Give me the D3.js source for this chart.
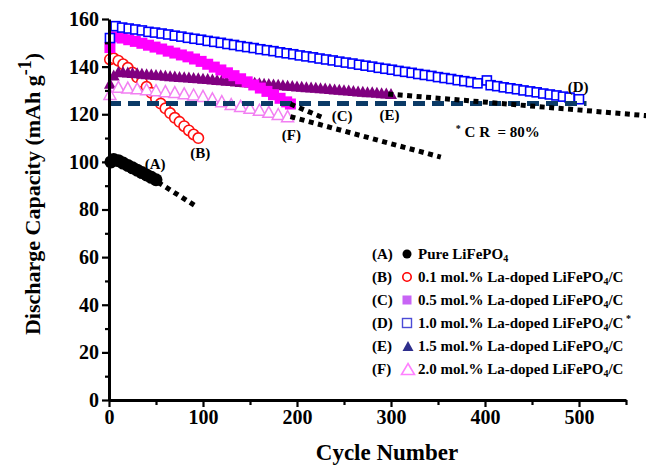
<!DOCTYPE html>
<html>
<head>
<meta charset="utf-8">
<script src="https://cdn.jsdelivr.net/npm/d3@7"></script>
<style>
body { margin: 0; background: #fff; }
text { font-family: "Liberation Serif", "Times New Roman", serif; font-weight: bold; fill: #000; }
</style>
</head>
<body>
<div id="chart"></div>
<script>
// cycle / capacity pairs
var seriesA = [[2,100],[5,101],[10,100.5],[15,99.5],[20,98.5],[25,97.5],[30,96.5],[35,95.5],[40,94.5],[45,93.5],[50,92.5]];

var seriesB = [[1,143],[5,143.5],[10,142.5],[15,141],[20,139.5],[25,137.5],[30,135.5],[35,133.5],[40,131.5],[45,129],
  [50,126.5],[55,124.5],[60,122.5],[65,120.5],[70,118.5],[75,116.8],[80,115],[85,113.2],[90,111.5],[95,110]];

var seriesC = [[1,148],[7,152.5],[14,152],[21,151.3],[28,150.6],[35,149.8],[42,149],[49,148.2],[56,147.4],[63,146.5],
  [70,145.7],[77,144.9],[84,144.1],[91,143.2],[98,142.2],[105,141],[112,139.8],[119,138.6],[126,137.4],[133,136.2],
  [140,134.9],[147,133.6],[154,132.3],[161,131],[168,129.6],[175,128.2],[182,126.7],[189,125.2],[193,124.3]];

var seriesD = [[1,152],[7,157],[14,156.4],[21,156],[28,155.6],[35,155.2],[42,154.6],[49,154.3],[56,153.9],[63,153.5],
  [70,153],[77,152.6],[84,152.1],[91,151.7],[98,151.3],[105,150.8],[112,150.4],[119,150],[126,149.5],[133,149.1],
  [140,148.6],[147,148.2],[154,147.8],[161,147.3],[168,146.9],[175,146.5],[182,146],[189,145.6],[196,145.2],[203,144.7],
  [210,144.3],[217,143.9],[224,143.4],[231,143],[238,142.6],[245,142.1],[252,141.7],[259,141.3],[266,140.8],[273,140.4],
  [280,140],[287,139.5],[294,139.1],[301,138.7],[308,138.2],[315,137.8],[322,137.4],[329,136.9],[336,136.5],[343,136.1],
  [350,135.6],[357,135.2],[364,134.8],[371,134.3],[378,133.9],[385,133.5],[392,133],[402,134.2],[406,132.2],[413,131.8],
  [420,131.3],[427,130.9],[434,130.5],[441,130],[448,129.6],[455,129.2],[462,128.7],[469,128.3],[476,127.9],[483,127.4],
  [490,127],[500,126.3]];

var seriesE = [[1,133],[5,136.5],[10,138],[15,137.8],[20,137.7],[25,137.5],[30,137.4],[35,137.2],[40,137],[45,136.9],
  [50,136.7],[55,136.6],[60,136.4],[65,136.2],[70,136.1],[75,135.9],[80,135.8],[85,135.6],[90,135.4],[95,135.3],
  [100,135.1],[105,135],[110,134.8],[115,134.6],[120,134.5],[125,134.3],[130,134.2],[135,134],[140,133.8],[145,133.7],
  [150,133.5],[155,133.4],[160,133.2],[165,133],[170,132.9],[175,132.7],[180,132.6],[185,132.4],[190,132.2],[195,132.1],
  [200,131.9],[205,131.8],[210,131.6],[215,131.4],[220,131.3],[225,131.1],[230,131],[235,130.8],[240,130.6],[245,130.5],
  [250,130.3],[255,130.2],[260,130],[265,129.8],[270,129.7],[275,129.5],[280,129.4],[285,129.2],[290,129],[295,128.9],[300,128.7]];

var seriesF = [[1,128.5],[10,131.5],[20,131.2],[30,130.9],[40,130.5],[50,130.1],[60,129.7],[70,129.3],[80,128.8],[90,128.3],
  [100,127.7],[110,126.7],[120,125.5],[130,124.3],[140,123.5],[150,122.7],[160,121.9],[170,121],[180,120.1],[190,119.2]];

// extrapolation guides and the 80% retention line
var trendA = [[52,91.5],[92,81.5]];
var trendC = [[193,124.3],[228,118.5]];
var trendE = [[297,128.5],[575,119.3]];
var trendF = [[193,119],[353,102]];
var line80 = [[0,124.5],[508,124.5]];

var xTicks = [0,100,200,300,400,500];
var xMinor = [50,150,250,350,450,550];
var yTicks = [0,20,40,60,80,100,120,140,160];
var yMinor = [10,30,50,70,90,110,130,150];

var legendKeys = ["(A)","(B)","(C)","(D)","(E)","(F)"];
var legendNames = ["Pure LiFePO","0.1 mol.% La-doped LiFePO","0.5 mol.% La-doped LiFePO",
  "1.0 mol.% La-doped LiFePO","1.5 mol.% La-doped LiFePO","2.0 mol.% La-doped LiFePO"];
var legendTails = ["","/C","/C","/C","/C","/C"];

var width = 646, height = 467;

var svg = d3.select("#chart").append("svg")
    .attr("width", width)
    .attr("height", height)
    .style("background", "#fff");

var x = d3.scaleLinear().domain([0, 550]).range([109, 626]);
var y = d3.scaleLinear().domain([0, 160]).range([400, 19]);

function tri(w, h) {
  return "M0," + (-h / 2) + "L" + (w / 2) + "," + (h / 2) + "L" + (-w / 2) + "," + (h / 2) + "Z";
}

var plot = svg.append("g");

// B: open red circles
plot.selectAll(".ptB").data(seriesB).enter().append("circle")
    .attr("cx", function (d) { return x(d[0]); })
    .attr("cy", function (d) { return y(d[1]); })
    .attr("r", 5.2)
    .attr("fill", "#fff")
    .attr("stroke", "#ff1010")
    .attr("stroke-width", 1.6);

// E: filled purple triangles
plot.selectAll(".ptE").data(seriesE).enter().append("path")
    .attr("d", tri(12, 11))
    .attr("transform", function (d) { return "translate(" + x(d[0]) + "," + y(d[1]) + ")"; })
    .attr("fill", "#800080");

// F: open pink triangles
plot.selectAll(".ptF").data(seriesF).enter().append("path")
    .attr("d", tri(12, 11))
    .attr("transform", function (d) { return "translate(" + x(d[0]) + "," + y(d[1]) + ")"; })
    .attr("fill", "#fff")
    .attr("stroke", "#f27ff2")
    .attr("stroke-width", 1.5);

// C: filled magenta squares
plot.selectAll(".ptC").data(seriesC).enter().append("rect")
    .attr("x", function (d) { return x(d[0]) - 5.5; })
    .attr("y", function (d) { return y(d[1]) - 5.5; })
    .attr("width", 11).attr("height", 11)
    .attr("fill", "#ff00ff");

// D: open blue squares
plot.selectAll(".ptD").data(seriesD).enter().append("rect")
    .attr("x", function (d) { return x(d[0]) - 4.5; })
    .attr("y", function (d) { return y(d[1]) - 4.5; })
    .attr("width", 9).attr("height", 9)
    .attr("fill", "#fff")
    .attr("stroke", "#0000ff")
    .attr("stroke-width", 1.6);

// A: filled black circles
plot.selectAll(".ptA").data(seriesA).enter().append("circle")
    .attr("cx", function (d) { return x(d[0]); })
    .attr("cy", function (d) { return y(d[1]); })
    .attr("r", 6.5)
    .attr("fill", "#000");

var line = d3.line()
    .x(function (d) { return x(d[0]); })
    .y(function (d) { return y(d[1]); });

plot.append("path").datum(line80)
    .attr("d", line)
    .attr("fill", "none")
    .attr("stroke", "#0b3a66")
    .attr("stroke-width", 5)
    .attr("stroke-dasharray", "12,7");

[trendA, trendC, trendE, trendF].forEach(function (t) {
  plot.append("path").datum(t)
      .attr("d", line)
      .attr("fill", "none")
      .attr("stroke", "#000")
      .attr("stroke-width", 5)
      .attr("stroke-dasharray", "5,4.5");
});

// curve labels
var notes = [["(A)",49,97],["(B)",97,101.5],["(C)",248,117],["(E)",298.5,117.5],["(F)",194,109],["(D)",499,129.5]];
notes.forEach(function (n) {
  plot.append("text")
      .attr("x", x(n[1]))
      .attr("y", y(n[2]))
      .attr("text-anchor", "middle")
      .style("font-size", "15px")
      .text(n[0]);
});

var cr = plot.append("text")
    .attr("x", x(369))
    .attr("y", y(110.5))
    .style("font-size", "15px");
cr.append("tspan").attr("dy", -5).style("font-size", "10px").text("*");
cr.append("tspan").attr("dy", 5).attr("xml:space", "preserve").text(" C R  = 80%");

// axes
svg.append("g").attr("transform", "translate(0,400)")
    .call(d3.axisBottom(x).tickValues(xTicks).tickSize(7).tickSizeOuter(0).tickPadding(3));
svg.append("g").attr("transform", "translate(0,400)")
    .call(d3.axisBottom(x).tickValues(xMinor).tickSize(5).tickFormat(""))
    .call(function (g) { g.select(".domain").remove(); });

svg.append("g").attr("transform", "translate(109,0)")
    .call(d3.axisLeft(y).tickValues(yTicks).tickSize(7).tickSizeOuter(0).tickPadding(3));
svg.append("g").attr("transform", "translate(109,0)")
    .call(d3.axisLeft(y).tickValues(yMinor).tickSize(4).tickFormat(""))
    .call(function (g) { g.select(".domain").remove(); });

svg.selectAll(".domain").attr("stroke", "#000").attr("stroke-width", 3);
svg.selectAll(".tick line").attr("stroke", "#000").attr("stroke-width", 2.2);
svg.selectAll(".tick text")
    .style("font-family", "'Liberation Serif', serif")
    .style("font-weight", "bold")
    .style("font-size", "20px")
    .attr("fill", "#000");

svg.append("text")
    .attr("x", 387)
    .attr("y", 460)
    .attr("text-anchor", "middle")
    .style("font-size", "23px")
    .text("Cycle Number");

var yt = svg.append("text")
    .attr("transform", "translate(40,194) rotate(-90)")
    .attr("text-anchor", "middle")
    .style("font-size", "22px");
yt.append("tspan").text("Discharge Capacity (mAh g");
yt.append("tspan").attr("dy", -9).style("font-size", "18px").text("-1");
yt.append("tspan").attr("dy", 9).text(")");

// legend
var legend = svg.append("g");
legendKeys.forEach(function (k, i) {
  var cy = 254 + i * 23;
  legend.append("text").attr("x", 372).attr("y", cy + 5).style("font-size", "15px").text(k);
  var mx = 407;
  if (i === 0) {
    legend.append("circle").attr("cx", mx).attr("cy", cy).attr("r", 4.5).attr("fill", "#000");
  } else if (i === 1) {
    legend.append("circle").attr("cx", mx).attr("cy", cy).attr("r", 4.2)
        .attr("fill", "none").attr("stroke", "#ff0000").attr("stroke-width", 1.6);
  } else if (i === 2) {
    legend.append("rect").attr("x", mx - 4.5).attr("y", cy - 4.5).attr("width", 9).attr("height", 9)
        .attr("fill", "#c864f5");
  } else if (i === 3) {
    legend.append("rect").attr("x", mx - 4.5).attr("y", cy - 4.5).attr("width", 9).attr("height", 9)
        .attr("fill", "none").attr("stroke", "#4b4bd6").attr("stroke-width", 1.4);
  } else if (i === 4) {
    legend.append("path").attr("d", tri(11, 10)).attr("transform", "translate(" + (mx + 1) + "," + cy + ")")
        .attr("fill", "#2e2e8c");
  } else {
    legend.append("path").attr("d", tri(13, 11)).attr("transform", "translate(" + (mx + 1) + "," + cy + ")")
        .attr("fill", "none").attr("stroke", "#ff80ff").attr("stroke-width", 1.6);
  }
  var t = legend.append("text").attr("x", 418).attr("y", cy + 5).style("font-size", "15px");
  t.append("tspan").text(legendNames[i]);
  t.append("tspan").attr("dy", 3).style("font-size", "10px").text("4");
  t.append("tspan").attr("dy", -3).text(legendTails[i]);
  if (i === 3) {
    t.append("tspan").attr("dy", -6).style("font-size", "10px").text(" *");
  }
});
</script>
</body>
</html>
